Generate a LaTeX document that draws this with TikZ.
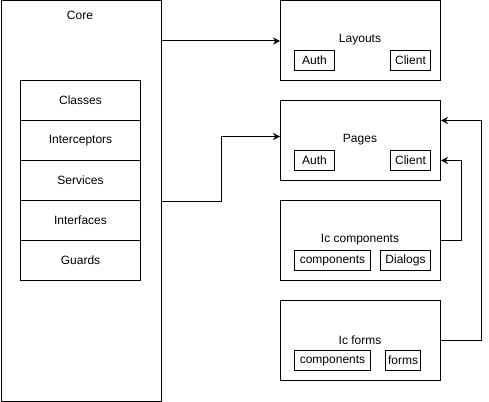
\documentclass[tikz,border=0pt]{standalone}
\usepackage{fontspec}
\setmainfont{Liberation Sans}
\usetikzlibrary{arrows.meta,calc}
\begin{document}
\begin{tikzpicture}[x=1pt,y=-1pt,
  box/.style={draw,line width=1pt,anchor=north west,inner sep=0pt,font=\fontsize{12}{14}\selectfont},
  lbl/.style={inner sep=0pt,font=\fontsize{12}{14}\selectfont},
  arr/.style={line width=1pt,-{Stealth[length=7pt,width=7pt]}}]
\useasboundingbox (0,0) rectangle (489,401);
% Core
\node[box,minimum width=160pt,minimum height=400pt] (core) at (0.5,0.5) {};
\node[lbl] (corelbl) at (80,15) {Core};
\node[box,minimum width=120pt,minimum height=40pt] (classes) at (20,80) {Classes};
\node[box,minimum width=120pt,minimum height=40pt] (interceptors) at (20,120) {Interceptors};
\node[box,minimum width=120pt,minimum height=40pt] (services) at (20,160) {Services};
\node[box,minimum width=120pt,minimum height=40pt] (interfaces) at (20,200) {Interfaces};
\node[box,minimum width=120pt,minimum height=40pt] (guards) at (20,240) {Guards};
% Layouts
\node[box,minimum width=160pt,minimum height=80pt] (layouts) at (280,0.5) {};
\node[lbl] (layoutslbl) at (360,40) {Layouts};
\node[box,minimum width=40pt,minimum height=20pt] (lauth) at (294,50) {Auth};
\node[box,minimum width=40pt,minimum height=20pt] (lclient) at (390,50) {Client};
% Pages
\node[box,minimum width=160pt,minimum height=80pt] (pages) at (280,100) {};
\node[lbl] (pageslbl) at (360,140) {Pages};
\node[box,minimum width=40pt,minimum height=20pt] (pauth) at (294,150) {Auth};
\node[box,minimum width=40pt,minimum height=20pt] (pclient) at (390,150) {Client};
% Ic components
\node[box,minimum width=160pt,minimum height=80pt] (iccomp) at (280,200) {};
\node[lbl] (iccomplbl) at (360,240) {Ic components};
\node[box,minimum width=76pt,minimum height=20pt] (ccomp) at (294,250) {components};
\node[box,minimum width=50pt,minimum height=20pt] (cdialogs) at (380,250) {Dialogs};
% Ic forms
\node[box,minimum width=160pt,minimum height=80pt] (icforms) at (280,300) {};
\node[lbl] (icformslbl) at (360,340) {Ic forms};
\node[box,minimum width=76pt,minimum height=20pt] (fcomp) at (294,350) {components};
\node[box,minimum width=35pt,minimum height=20pt] (fforms) at (385,350) {forms};
% connectors
\draw[arr] (core.north east |- layouts.west) -- (layouts.west);
\draw[arr] (core.east) -- ++(60,0) |- ([yshift=4pt]pages.west);
\draw[arr] (iccomp.east) -- ++(20,0) |- ([yshift=-20pt]pages.east);
\draw[arr] (icforms.east) -- ++(40,0) |- ([yshift=20pt]pages.east);
\end{tikzpicture}
\end{document}
